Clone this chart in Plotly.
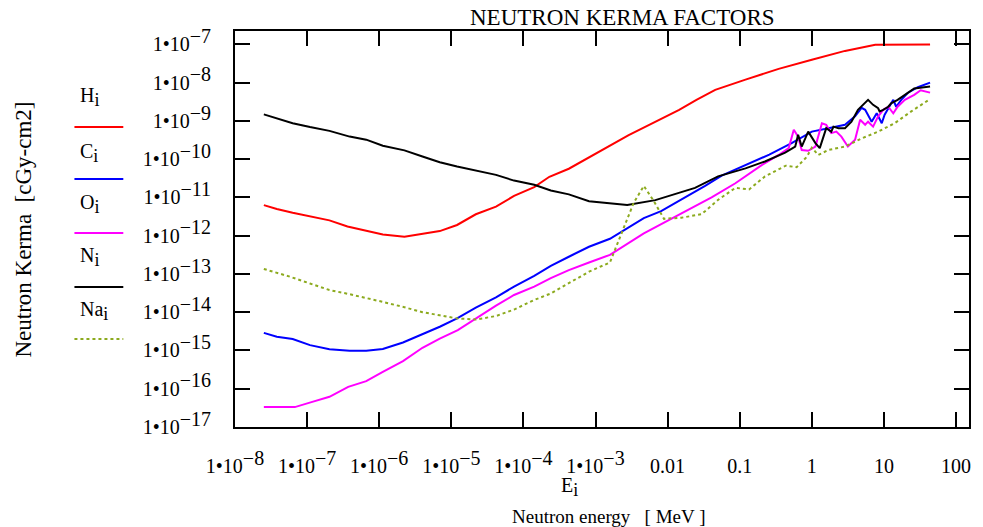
import numpy as np
import plotly.graph_objects as go

# ---- data (log10 of energy in MeV, log10 of kerma factor) ----
H_logE = [-7.60, -7.42, -7.20, -6.96, -6.69, -6.44, -6.18, -5.95, -5.65, -5.40, -5.16, -4.92, -4.66,
          -4.38, -4.13, -3.85, -3.64, -3.37, -3.09, -2.82, -2.54, -2.20, -1.84, -1.60, -1.34, -0.92,
          -0.46, 0.00, 0.46, 0.88, 1.64]
H_logK = [-11.20, -11.30, -11.40, -11.50, -11.60, -11.76, -11.88, -11.97, -12.03, -11.96, -11.88, -11.72, -11.44,
          -11.24, -10.96, -10.73, -10.46, -10.25, -9.95, -9.65, -9.37, -9.05, -8.71, -8.45, -8.19, -7.92,
          -7.64, -7.40, -7.17, -7.01, -7.00]

C_logE = [-7.60, -7.42, -7.20, -6.96, -6.69, -6.41, -6.18, -5.95, -5.67, -5.40, -5.16, -4.92, -4.66,
          -4.38, -4.13, -3.85, -3.62, -3.37, -3.09, -2.80, -2.33, -2.09, -1.81, -1.48, -1.25, -0.92,
          -0.59, -0.28, 0.00, 0.23, 0.46, 0.60, 0.69, 0.74, 0.83, 0.90, 0.97, 1.01, 1.08, 1.13,
          1.17, 1.24, 1.33, 1.47, 1.64]
C_logK = [-14.54, -14.64, -14.70, -14.86, -14.97, -15.01, -15.01, -14.96, -14.79, -14.58, -14.38, -14.16, -13.88,
          -13.61, -13.33, -13.05, -12.79, -12.55, -12.29, -12.08, -11.54, -11.36, -11.06, -10.70, -10.43, -10.16,
          -9.88, -9.58, -9.28, -9.19, -9.10, -8.88, -8.66, -8.71, -9.02, -8.80, -9.06, -8.84, -8.63, -8.45,
          -8.63, -8.45, -8.27, -8.12, -8.00]

O_logE = [-7.60, -7.17, -6.94, -6.69, -6.43, -6.18, -5.95, -5.67, -5.40, -5.16, -4.91, -4.66, -4.38,
          -4.13, -3.85, -3.62, -3.37, -3.09, -2.80, -2.33, -1.86, -1.39, -1.06, -0.69, -0.46, -0.32,
          -0.25, -0.19, -0.14, -0.05, 0.05, 0.14, 0.20, 0.27, 0.34, 0.41, 0.50, 0.60, 0.67, 0.74,
          0.78, 0.85, 0.92, 0.99, 1.06, 1.13, 1.19, 1.29, 1.42, 1.51, 1.64]
O_logK = [-16.48, -16.48, -16.35, -16.21, -15.95, -15.80, -15.56, -15.28, -14.93, -14.69, -14.47, -14.16, -13.83,
          -13.55, -13.33, -13.11, -12.90, -12.70, -12.50, -11.94, -11.46, -11.00, -10.63, -10.15, -9.89, -9.71,
          -9.23, -9.41, -9.76, -9.78, -9.67, -9.06, -9.10, -9.32, -9.28, -9.41, -9.67, -9.49, -8.97, -9.10,
          -9.02, -9.15, -8.88, -8.71, -8.63, -8.80, -8.63, -8.45, -8.32, -8.20, -8.26]

N_logE = [-7.60, -7.42, -7.20, -6.96, -6.69, -6.41, -6.18, -5.95, -5.65, -5.40, -5.16, -4.92, -4.66,
          -4.38, -4.13, -3.85, -3.62, -3.37, -3.09, -2.56, -2.17, -1.62, -1.30, -0.92, -0.65, -0.37,
          -0.23, -0.19, -0.14, -0.05, 0.05, 0.11, 0.20, 0.27, 0.30, 0.37, 0.46, 0.55, 0.64, 0.71,
          0.78, 0.85, 0.92, 0.94, 0.99, 1.06, 1.10, 1.19, 1.29, 1.42, 1.64]
N_logK = [-8.83, -8.93, -9.06, -9.16, -9.26, -9.41, -9.49, -9.65, -9.77, -9.93, -10.08, -10.19, -10.30,
          -10.41, -10.56, -10.67, -10.82, -10.92, -11.10, -11.20, -11.07, -10.75, -10.45, -10.24, -10.06, -9.83,
          -9.67, -9.36, -9.67, -9.28, -9.58, -9.71, -9.19, -9.28, -9.15, -9.19, -9.19, -9.02, -8.71, -8.58,
          -8.45, -8.58, -8.67, -8.75, -8.71, -8.63, -8.54, -8.45, -8.32, -8.15, -8.10]

Na_logE = [-7.60, -7.24, -6.96, -6.69, -6.41, -6.18, -5.95, -5.65, -5.40, -5.16, -4.93, -4.66, -4.38,
           -4.13, -3.85, -3.62, -3.37, -3.09, -2.80, -2.61, -2.47, -2.33, -2.19, -2.05, -1.81, -1.53,
           -1.29, -1.06, -0.87, -0.65, -0.36, -0.21, -0.07, 0.00, 0.09, 0.23, 0.46, 0.69, 0.92, 1.15,
           1.38, 1.64]
Na_logK = [-12.87, -13.07, -13.25, -13.42, -13.53, -13.64, -13.73, -13.87, -14.00, -14.08, -14.16, -14.19, -14.10,
           -13.93, -13.68, -13.51, -13.25, -12.94, -12.70, -11.81, -11.14, -10.70, -11.10, -11.56, -11.53, -11.44,
           -11.05, -10.75, -10.79, -10.45, -10.17, -10.21, -9.94, -9.70, -9.89, -9.76, -9.67, -9.46, -9.28, -9.06,
           -8.75, -8.43]

x_tickvals = [1e-8, 1e-7, 1e-6, 1e-5, 1e-4, 1e-3, 0.01, 0.1, 1, 10, 100]
x_exps = [-8, -7, -6, -5, -4, -3]
x_plain = ["0.01", "0.1", "1", "10", "100"]
y_tickvals = [1e-17, 1e-16, 1e-15, 1e-14, 1e-13, 1e-12, 1e-11, 1e-10, 1e-9, 1e-8, 1e-7]
y_exps = [-17, -16, -15, -14, -13, -12, -11, -10, -9, -8, -7]

series = [
    ("H", H_logE, H_logK, "#ff0000", "solid"),
    ("C", C_logE, C_logK, "#0000ff", "solid"),
    ("O", O_logE, O_logK, "#ff00ff", "solid"),
    ("N", N_logE, N_logK, "#000000", "solid"),
    ("Na", Na_logE, Na_logK, "#8caa1e", "dot"),
]

FONT = "Liberation Serif, Times New Roman, serif"
TICK_SIZE = 20
W, H = 983, 527
L, R, T, B = 235, 971, 31, 427


def px(x):
    return (x - L) / (R - L)


def py(y):
    return (B - y) / (B - T)


def pow_label(e):
    return f"1•10<sup><span style='font-size:{TICK_SIZE}px'>−{abs(e)}</span></sup>"


x_ticktext = [pow_label(e) for e in x_exps] + x_plain
y_ticktext = [pow_label(e) for e in y_exps]

fig = go.Figure()
for name, le, lk, col, dash in series:
    fig.add_trace(go.Scatter(
        x=10 ** np.array(le), y=10 ** np.array(lk), mode="lines", name=name,
        line=dict(color=col, width=2, dash=dash), showlegend=False))

# Mathcad-style legend: label above a sample line
legend_pos = [(97, 127), (153, 179), (204, 233), (257, 287), (311, 339)]
annotations = []
shapes = []
for (name, le, lk, col, dash), (ty, ly) in zip(series, legend_pos):
    annotations.append(dict(text=f"{name}<sub><span style='font-size:18px'>i</span></sub>",
                            x=px(78), y=py(ty), xref="paper", yref="paper",
                            xanchor="left", yanchor="middle", showarrow=False,
                            font=dict(family=FONT, size=20, color="black")))
    shapes.append(dict(type="line", xref="paper", yref="paper", x0=px(74), x1=px(123), y0=py(ly), y1=py(ly),
                       line=dict(color=col, width=2, dash=dash)))

annotations += [
    dict(text="NEUTRON KERMA FACTORS", x=px(624), y=py(17), xref="paper", yref="paper", showarrow=False,
         xanchor="center", yanchor="middle", font=dict(family=FONT, size=23, color="black")),
    dict(text="E<sub><span style='font-size:18px'>i</span></sub>", x=px(570), y=py(487),
         xref="paper", yref="paper", showarrow=False,
         xanchor="center", yanchor="middle", font=dict(family=FONT, size=20, color="black")),
    dict(text="Neutron energy   [ MeV ]", x=px(610), y=py(516), xref="paper", yref="paper", showarrow=False,
         xanchor="center", yanchor="middle", font=dict(family=FONT, size=19, color="black")),
    dict(text="Neutron Kerma  [cGy-cm2]", x=px(22), y=py(230), xref="paper", yref="paper", showarrow=False,
         xanchor="center", yanchor="middle", textangle=-90, font=dict(family=FONT, size=23, color="black")),
]

axis_common = dict(type="log", showgrid=False, zeroline=False, showline=True, linecolor="black", linewidth=2,
                   mirror="allticks", ticks="inside", ticklen=15, tickwidth=2, tickcolor="black",
                   tickfont=dict(family=FONT, size=TICK_SIZE, color="black"))

fig.update_layout(
    width=W, height=H,
    margin=dict(l=L, r=W - R, t=T, b=H - B),
    paper_bgcolor="white", plot_bgcolor="white",
    xaxis=dict(**axis_common, range=[-8, 2.18], tickvals=x_tickvals, ticktext=x_ticktext,
               ticklabelstandoff=20),
    yaxis=dict(**axis_common, range=[-17, -6.65], tickvals=y_tickvals, ticktext=y_ticktext,
               ticklabelstandoff=18),
    annotations=annotations,
    shapes=shapes,
)

fig.write_html("out.html", config={"displayModeBar": False})

# remove the default page margin so the figure sits at the window's top-left corner
with open("out.html", "r", encoding="utf-8") as f:
    html = f.read()
html = html.replace("<body>", "<body style=\"margin:0;\">", 1)
with open("out.html", "w", encoding="utf-8") as f:
    f.write(html)
